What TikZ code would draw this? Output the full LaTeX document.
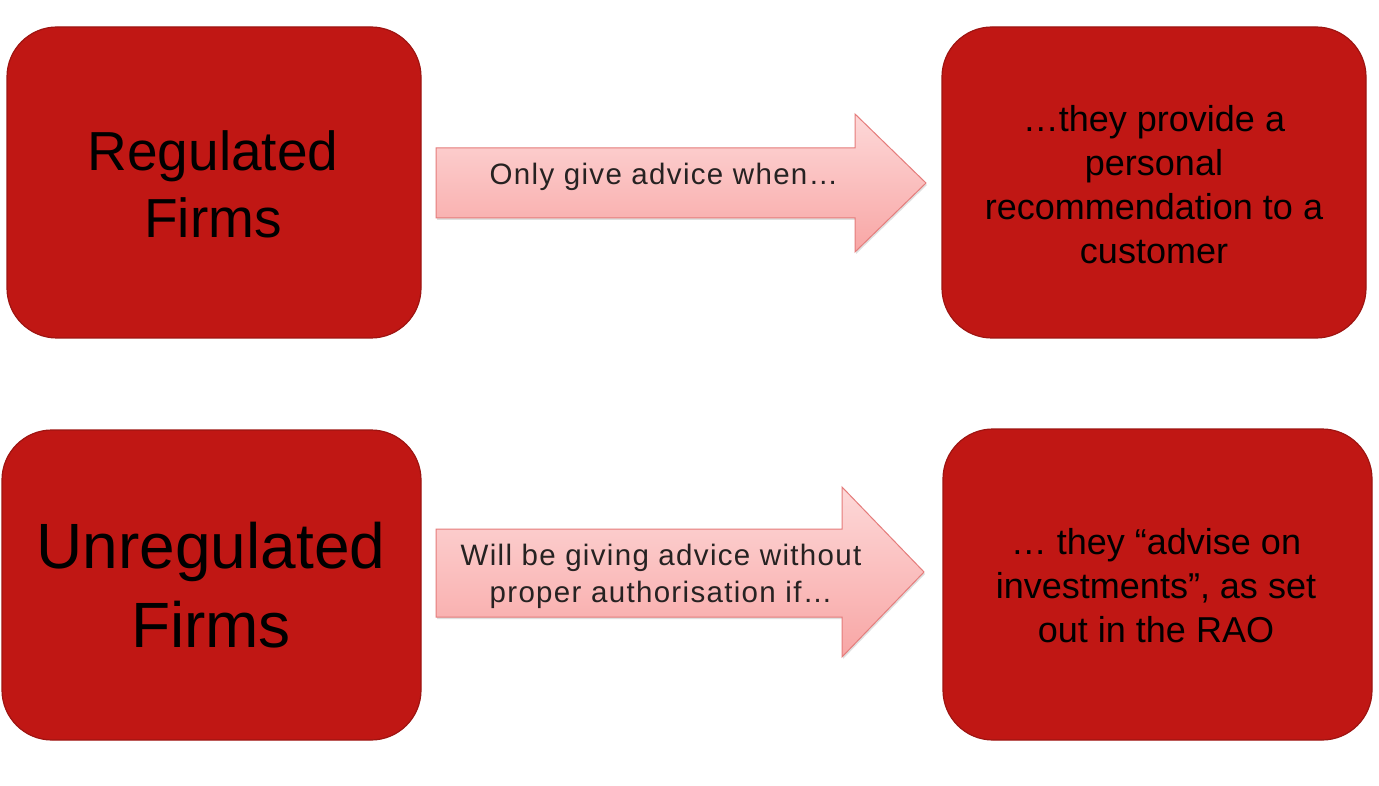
\documentclass[tikz,border=0pt]{standalone}
\usepackage{fontspec}
\setmainfont{Liberation Sans}
\newfontfamily\arrowfont[LetterSpace=4.5]{Liberation Sans}
\usetikzlibrary{shadows}
\definecolor{boxred}{HTML}{C01714}
\definecolor{boxedge}{HTML}{9E1411}
\definecolor{arrtop}{HTML}{FDD8D8}
\definecolor{arrbot}{HTML}{F8A6A5}
\definecolor{arredge}{HTML}{E57C7B}
\definecolor{arrtext}{HTML}{262222}
\tikzset{
  redbox/.style={draw=boxedge, line width=1.2pt, fill=boxred, rounded corners=50pt},
  blockarrow/.style={draw=arredge, line width=1pt, top color=arrtop, bottom color=arrbot,
     drop shadow={shadow xshift=1pt, shadow yshift=-2pt, opacity=0.25}},
  txt/.style={align=center, text=black, inner sep=0pt},
  arrtxt/.style={align=center, text=arrtext, inner sep=0pt}
}
\begin{document}
\begin{tikzpicture}[x=1pt,y=-1pt]
\useasboundingbox (0,0) rectangle (1379,786);
\fill[white] (0,0) rectangle (1379,786);
% boxes
\draw[redbox] (7,27) rectangle (421,338);
\draw[redbox] (942,27) rectangle (1366,338);
\draw[redbox] (2,430) rectangle (421,740);
\draw[redbox] (943,429) rectangle (1372,740);
\node[txt, font=\fontsize{55}{67}\selectfont] (reg) at (213,184) {Regulated\\Firms};
\node[txt, font=\fontsize{64}{79}\selectfont] (unreg) at (211,585) {Unregulated\\Firms};
\node[txt, font=\fontsize{36}{44}\selectfont] (rec) at (1154,185) {\ldots they provide a\\personal\\recommendation to a\\customer};
\node[txt, font=\fontsize{36}{44}\selectfont] (rao) at (1156,586) {\ldots\ they “advise on\\investments”, as set\\out in the RAO};
% arrows
\draw[blockarrow] (436,148) -- (855,148) -- (855,114) -- (926,183) -- (855,252) -- (855,218) -- (436,218) -- cycle;
\node[arrtxt, font=\arrowfont\fontsize{29.5}{38}\selectfont] (a1) at (664,177) {Only give advice when\ldots};
\draw[blockarrow] (436,529) -- (842,529) -- (842,487) -- (924,572) -- (842,657) -- (842,617) -- (436,617) -- cycle;
\node[arrtxt, font=\arrowfont\fontsize{29.5}{37}\selectfont] (a2) at (661,576) {Will be giving advice without\\proper authorisation if\ldots};
\end{tikzpicture}
\end{document}
